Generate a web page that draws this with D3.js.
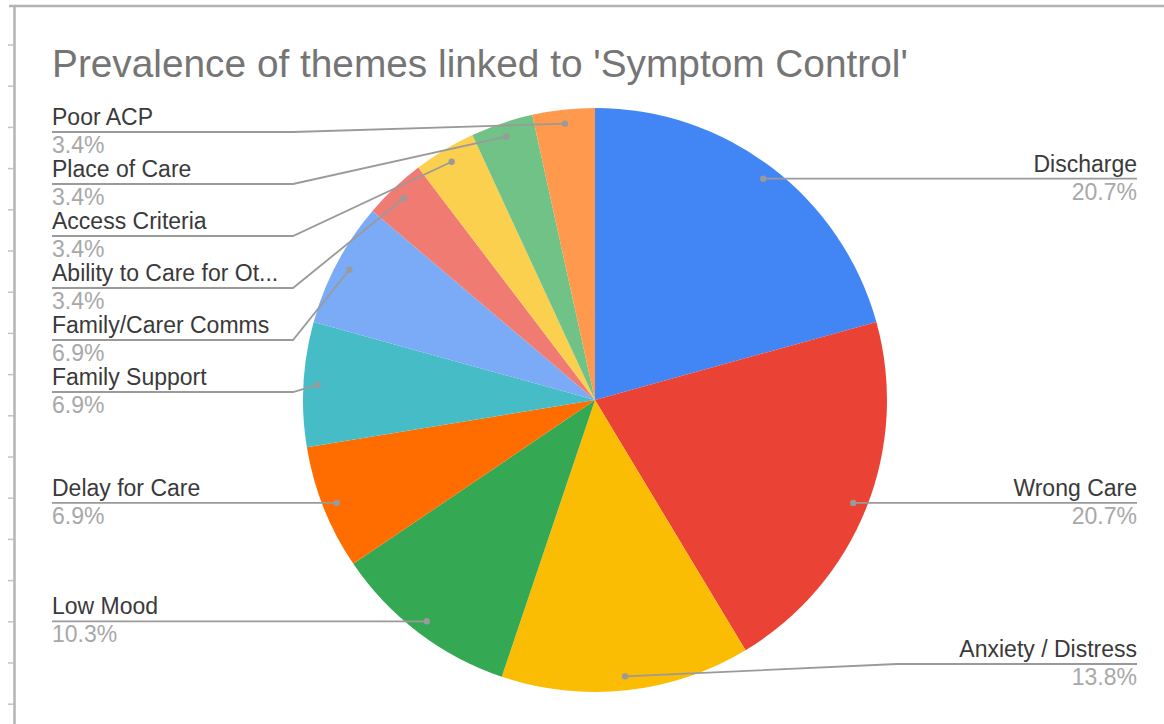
<!DOCTYPE html>
<html>
<head>
<meta charset="utf-8">
<script src="https://cdn.jsdelivr.net/npm/d3@7"></script>
<style>
  html, body { margin: 0; padding: 0; background: #fff; }
  svg { display: block; font-family: "Liberation Sans", Arial, sans-serif; }
</style>
</head>
<body>
<svg id="chart" width="1164" height="724"></svg>
<script>
// Themes linked to symptom control, in clockwise order from 12 o'clock
const categories = [
  "Discharge", "Wrong Care", "Anxiety / Distress", "Low Mood", "Delay for Care",
  "Family Support", "Family/Carer Comms", "Ability to Care for Others",
  "Access Criteria", "Place of Care", "Poor ACP"
];
// Number of mentions per theme
const counts = [6, 6, 4, 3, 2, 2, 2, 1, 1, 1, 1];
const sliceColors = [
  "#4285F4", "#EA4335", "#FBBC04", "#34A853", "#FF6D01",
  "#46BDC6", "#7BAAF7", "#F07B72", "#FCD04F", "#71C287", "#FF994D"
];
const titleText = "Prevalence of themes linked to 'Symptom Control'";

const W = 1164, H = 724;
const svg = d3.select("#chart");

// Sheet frame around the chart
const frame = svg.append("g").attr("stroke", "#b4b4b4").attr("fill", "none");
frame.append("line").attr("x1", 9).attr("x2", W).attr("y1", 6).attr("y2", 6).attr("stroke-width", 2.5);
frame.append("line").attr("x1", 14.5).attr("x2", 14.5).attr("y1", 6).attr("y2", H).attr("stroke-width", 2.5);
frame.selectAll("line.tick").data(d3.range(45, H, 41.2)).join("line")
  .attr("class", "tick")
  .attr("x1", 8).attr("x2", 14).attr("y1", d => d).attr("y2", d => d)
  .attr("stroke", "#c4c4c4").attr("stroke-width", 1.5);

// Title
svg.append("text")
  .attr("x", 52).attr("y", 77)
  .attr("font-size", 38.8)
  .attr("fill", "#757575")
  .text(titleText);

// Pie geometry
const cx = 595, cy = 400, R = 292;
const g = svg.append("g").attr("transform", `translate(${cx},${cy})`);

const data = categories.map((name, i) => ({ name, value: counts[i], color: sliceColors[i] }));
const total = d3.sum(counts);
const pct = d3.format(".1%");

const pie = d3.pie().sort(null).value(d => d.value);
const arcs = pie(data);
const arc = d3.arc().innerRadius(0).outerRadius(R);

g.selectAll("path.slice").data(arcs).join("path")
  .attr("class", "slice")
  .attr("d", arc)
  .attr("fill", d => d.data.color);

// Label anchor point inside each slice
const dotArc = d3.arc().innerRadius(R * 0.952).outerRadius(R * 0.952);
arcs.forEach(a => {
  const [x, y] = dotArc.centroid(a);
  a.dx = x; a.dy = y;
  a.mid = (a.startAngle + a.endAngle) / 2;
  a.side = a.mid < Math.PI ? "right" : "left";
});

// Stack labels on each side: keep them apart and inside the plot band
const gap = 52, minY = 132 - cy, maxY = 664 - cy;
["left", "right"].forEach(side => {
  const items = arcs.filter(a => a.side === side).sort((a, b) => a.dy - b.dy);
  items.forEach(a => { a.ly = a.dy; });
  for (let i = 0; i < items.length; i++) {
    const lo = i === 0 ? minY : items[i - 1].ly + gap;
    items[i].ly = Math.max(items[i].ly, lo);
  }
  for (let i = items.length - 1; i >= 0; i--) {
    const hi = i === items.length - 1 ? maxY : items[i + 1].ly - gap;
    items[i].ly = Math.min(items[i].ly, hi);
  }
});

const elbow = R + 10;
const leftEdge = 52 - cx, rightEdge = 1137 - cx;

// Leader lines
g.selectAll("polyline.leader").data(arcs).join("polyline")
  .attr("class", "leader")
  .attr("fill", "none")
  .attr("stroke", "#9a9a9a")
  .attr("stroke-width", 1.8)
  .attr("points", a => {
    const s = a.side === "right" ? 1 : -1;
    const end = a.side === "right" ? rightEdge : leftEdge;
    return [[a.dx, a.dy], [s * elbow, a.ly], [end, a.ly]].map(p => p.join(",")).join(" ");
  });

g.selectAll("circle.dot").data(arcs).join("circle")
  .attr("class", "dot")
  .attr("cx", a => a.dx).attr("cy", a => a.dy).attr("r", 3.2)
  .attr("fill", "#9a9a9a");

// Labels: theme name above the line, share below
const maxLabelW = 232;
const labels = g.selectAll("g.label").data(arcs).join("g").attr("class", "label");
labels.append("text")
  .attr("x", a => a.side === "right" ? rightEdge : leftEdge)
  .attr("y", a => a.ly - 7)
  .attr("text-anchor", a => a.side === "right" ? "end" : "start")
  .attr("font-size", 23)
  .attr("fill", "#3a3a3a")
  .text(a => a.data.name)
  .each(function (a) {
    const t = d3.select(this);
    let s = a.data.name;
    if (this.getComputedTextLength() > maxLabelW) {
      while (s.length > 1) {
        s = s.slice(0, -1);
        t.text(s.trimEnd() + "...");
        if (this.getComputedTextLength() <= maxLabelW) break;
      }
    }
  });
labels.append("text")
  .attr("x", a => a.side === "right" ? rightEdge : leftEdge)
  .attr("y", a => a.ly + 21)
  .attr("text-anchor", a => a.side === "right" ? "end" : "start")
  .attr("font-size", 23)
  .attr("fill", "#a8a8a8")
  .text(a => pct(a.data.value / total));
</script>
</body>
</html>
